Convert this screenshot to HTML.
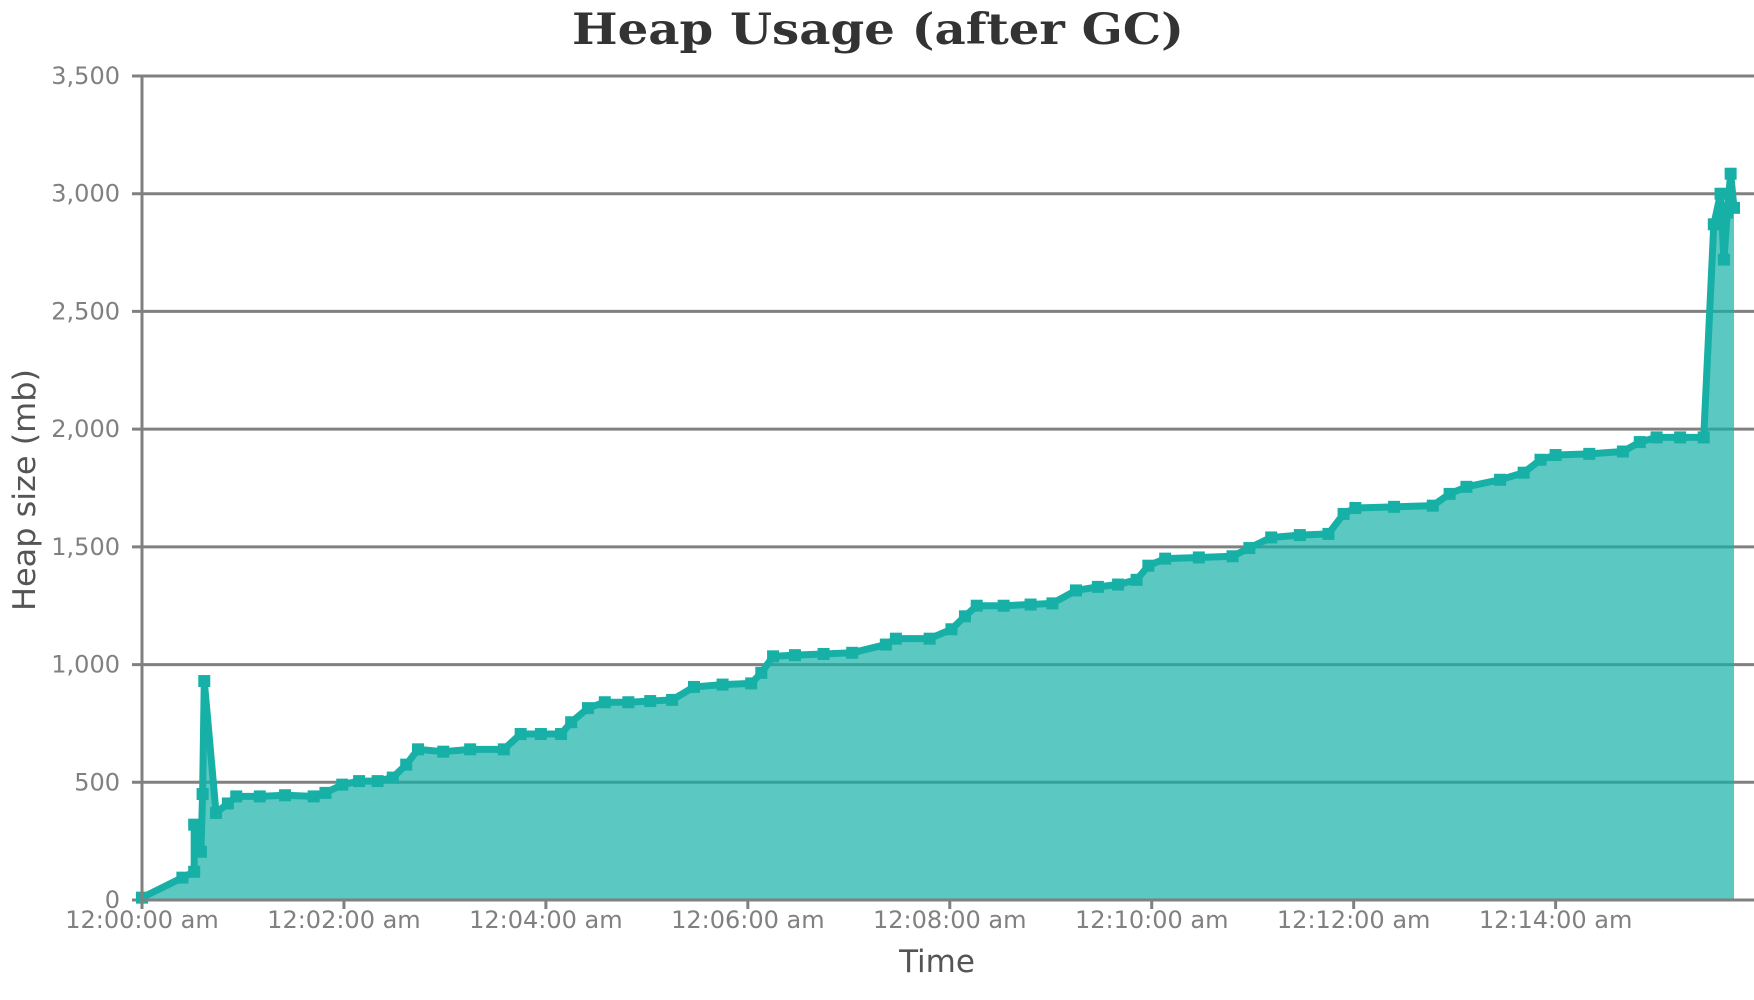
<!DOCTYPE html>
<html><head><meta charset="utf-8"><style>
html,body{margin:0;padding:0;background:#fff}
svg{display:block}
</style></head><body>
<svg id="chart" width="1754" height="1000" viewBox="0 0 1754 1000" xmlns="http://www.w3.org/2000/svg">
<text x="878" y="44" text-anchor="middle" font-family="'DejaVu Serif', serif" font-weight="bold" font-size="43" fill="#333" textLength="612" lengthAdjust="spacingAndGlyphs">Heap Usage (after GC)</text>
<text transform="translate(35,490) rotate(-90)" text-anchor="middle" font-family="'DejaVu Sans', sans-serif" font-size="31" fill="#555" textLength="242" lengthAdjust="spacingAndGlyphs">Heap size (mb)</text>
<text x="937" y="972" text-anchor="middle" font-family="'DejaVu Sans', sans-serif" font-size="31" fill="#555">Time</text>
<g id="grid"></g><g id="series"></g><g id="axes"></g>
</svg>
<script>
const yTicks = [0,500,1000,1500,2000,2500,3000,3500];
const xTickSecs = [0,120,240,360,480,600,720,840];
const xTickLabels = ["12:00:00 am","12:02:00 am","12:04:00 am","12:06:00 am","12:08:00 am","12:10:00 am","12:12:00 am","12:14:00 am"];
const times = [0,24,31,31,35,36,37,44,51,56,70,85,102,109,119,129,140,149,157,164,179,195,215,225,237,249,255,265,275,289,302,315,328,345,362,368,375,388,405,422,442,448,468,481,489,496,512,528,541,555,568,580,591,598,608,628,648,658,671,688,705,714,721,744,767,777,787,807,821,831,840,860,880,890,900,914,928,934,938,940,942,944,946];
const heap = [10,95,120,320,205,450,930,370,410,440,440,445,440,455,490,505,505,520,575,640,630,640,640,705,705,705,755,815,840,840,845,850,905,915,920,965,1035,1040,1045,1050,1085,1110,1110,1150,1205,1250,1250,1255,1260,1315,1330,1340,1360,1420,1450,1455,1460,1495,1540,1550,1555,1640,1665,1670,1675,1725,1755,1785,1815,1870,1890,1895,1905,1945,1965,1965,1965,2870,3000,2720,2920,3085,2940];

const X0=142, X1=1734, Y0=900, YTOP=76, TMAX=946, VMAX=3500;
const xs = t => X0 + (X1-X0)*t/TMAX;
const ys = v => Y0 - (Y0-YTOP)*v/VMAX;
const NS="http://www.w3.org/2000/svg";
function mk(tag, parent, attrs){const e=document.createElementNS(NS,tag);for(const k in attrs)e.setAttribute(k,attrs[k]);parent.appendChild(e);return e;}
const grid=document.getElementById('grid'), series=document.getElementById('series'), axes=document.getElementById('axes');

yTicks.forEach(v=>{
  const l=mk('line',grid,{x1:132,x2:1754,y1:ys(v),y2:ys(v),stroke:'#808080','stroke-width':3});
  
  
  const t=mk('text',axes,{x:120,y:ys(v)+8,'text-anchor':'end','font-family':"'DejaVu Sans', sans-serif",'font-size':24,fill:'#808080'});
  t.textContent=v.toLocaleString('en-US');
  
  
});

let d='M'+xs(times[0])+','+Y0;
times.forEach((t,i)=>{d+=' L'+xs(t)+','+ys(heap[i]);});
d+=' L'+X1+','+ys(heap[heap.length-1])+' L'+X1+','+Y0+' Z';
const area=mk('path',series,{d:d,fill:'#16b0a6','fill-opacity':0.7});


let ld='';
times.forEach((t,i)=>{ld+=(i?' L':'M')+xs(t)+','+ys(heap[i]);});
const line=mk('path',series,{d:ld,fill:'none',stroke:'#16b0a6','stroke-width':7,'stroke-linejoin':'round'});


times.forEach((t,i)=>{
  const m=mk('rect',series,{x:xs(t)-6,y:ys(heap[i])-6,width:12,height:12,fill:'#16b0a6'});
  
  
});

const ya=mk('line',axes,{x1:X0,x2:X0,y1:YTOP-1,y2:Y0+8,stroke:'#808080','stroke-width':3});


const xa=mk('line',axes,{x1:X0,x2:1754,y1:Y0,y2:Y0,stroke:'#808080','stroke-width':3});


xTickSecs.forEach((s,i)=>{
  const tk=mk('line',axes,{x1:xs(s),x2:xs(s),y1:Y0,y2:Y0+9,stroke:'#808080','stroke-width':3});
  
  
  const t=mk('text',axes,{x:xs(s),y:928,'text-anchor':'middle','font-family':"'DejaVu Sans', sans-serif",'font-size':24,fill:'#808080'});
  t.textContent=xTickLabels[i];
  
  
});
</script>
</body></html>
